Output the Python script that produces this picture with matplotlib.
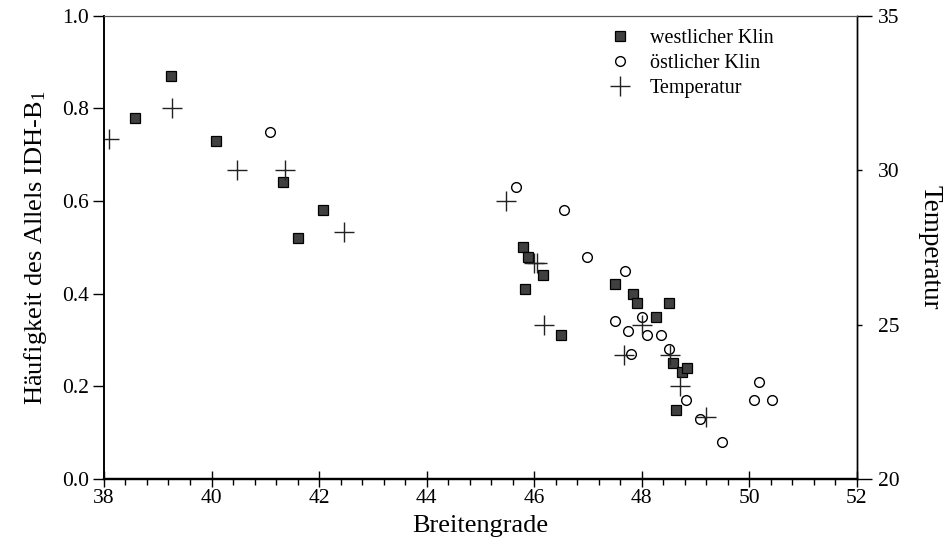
import matplotlib
matplotlib.use('Agg')
import matplotlib.pyplot as plt
from matplotlib.ticker import MultipleLocator, FixedLocator, FixedFormatter

plt.rcParams['font.family'] = ['Liberation Serif', 'DejaVu Serif']
plt.rcParams['mathtext.fontset'] = 'custom'
plt.rcParams['mathtext.rm'] = 'Liberation Serif'
plt.rcParams['mathtext.it'] = 'Liberation Serif:italic'

# westlicher Klin (filled squares)
west_lat = [38.58, 39.25, 40.08, 41.33, 42.08, 41.60, 45.80, 45.88, 46.17, 45.83,
            46.50, 47.51, 47.83, 47.92, 48.51, 48.26, 48.58, 48.75, 48.84, 48.63]
west_freq = [0.78, 0.87, 0.73, 0.64, 0.58, 0.52, 0.50, 0.48, 0.44, 0.41,
             0.31, 0.42, 0.40, 0.38, 0.38, 0.35, 0.25, 0.23, 0.24, 0.15]

# östlicher Klin (open circles)
east_lat = [41.08, 45.67, 46.56, 46.98, 47.69, 47.51, 48.00, 47.75, 48.09, 48.36,
            47.80, 48.51, 48.83, 49.09, 49.50, 50.17, 50.08, 50.42]
east_freq = [0.75, 0.63, 0.58, 0.48, 0.45, 0.34, 0.35, 0.32, 0.31, 0.31,
             0.27, 0.28, 0.17, 0.13, 0.08, 0.21, 0.17, 0.17]

# Temperatur (crosses, right axis)
temp_lat = [38.10, 39.27, 40.47, 41.37, 42.47, 45.47, 46.00, 46.06, 46.19,
            47.67, 48.00, 48.52, 48.71, 49.20]
temp_val = [31, 32, 30, 30, 28, 29, 27, 27, 25, 24, 25, 24, 23, 22]

fig = plt.figure(figsize=(9.45, 5.52), dpi=100)
ax = fig.add_axes([0.110, 0.1322, 0.7968, 0.8394])
ax2 = ax.twinx()

h1, = ax.plot(west_lat, west_freq, linestyle='none', marker='s', markersize=6.5,
              markerfacecolor='#404040', markeredgecolor='#000000', markeredgewidth=0.9,
              label='westlicher Klin')
h2, = ax.plot(east_lat, east_freq, linestyle='none', marker='o', markersize=7,
              markerfacecolor='white', markeredgecolor='#000000', markeredgewidth=1.0,
              label='östlicher Klin')
h3, = ax2.plot(temp_lat, temp_val, linestyle='none', marker='+', markersize=15,
               markeredgecolor='#222222', markeredgewidth=1.0, label='Temperatur')

ax.set_xlim(38, 52)
ax.set_ylim(0, 1.0)
ax2.set_ylim(20, 35)

ax.xaxis.set_major_locator(MultipleLocator(2))
ax.xaxis.set_minor_locator(MultipleLocator(0.4))
ax.yaxis.set_major_locator(MultipleLocator(0.2))
ax.yaxis.set_major_formatter(matplotlib.ticker.FormatStrFormatter('%.1f'))

ax2.yaxis.set_major_locator(FixedLocator([20, 35]))
ax2.yaxis.set_minor_locator(FixedLocator([25, 30]))
ax2.yaxis.set_minor_formatter(FixedFormatter(['25', '30']))

ax.tick_params(axis='x', which='major', direction='inout', length=12, width=1.0, labelsize=15.5, pad=1)
ax.tick_params(axis='x', which='minor', direction='out', length=4.3, width=1.0)
ax.tick_params(axis='y', which='major', direction='out', length=8, width=1.0, labelsize=15.5, pad=3)
ax2.tick_params(axis='y', which='major', direction='out', length=11, width=1.0, labelsize=15.5, pad=4)
ax2.tick_params(axis='y', which='minor', direction='out', length=3.6, width=1.0, labelsize=15.5, pad=11.5)

for a in (ax, ax2):
    a.spines['bottom'].set_linewidth(1.6)
    a.spines['left'].set_linewidth(1.2)
    a.spines['right'].set_linewidth(1.0)
    a.spines['top'].set_linewidth(0.8)
    a.spines['top'].set_color('#555555')

ax.set_xlabel('Breitengrade', fontsize=19, labelpad=5)
ax.set_ylabel('Häufigkeit des Allels IDH-B$_1$', fontsize=19, labelpad=9)
ax2.set_ylabel('Temperatur', fontsize=19.5, rotation=-90, labelpad=31)

leg = ax2.legend(handles=[h1, h2, h3], loc='upper left', bbox_to_anchor=(0.665, 0.972),
                 frameon=False, fontsize=14.5, borderpad=0, borderaxespad=0,
                 handlelength=1.5, handletextpad=0.75, labelspacing=0.3)

fig.savefig('out.png', dpi=100)
